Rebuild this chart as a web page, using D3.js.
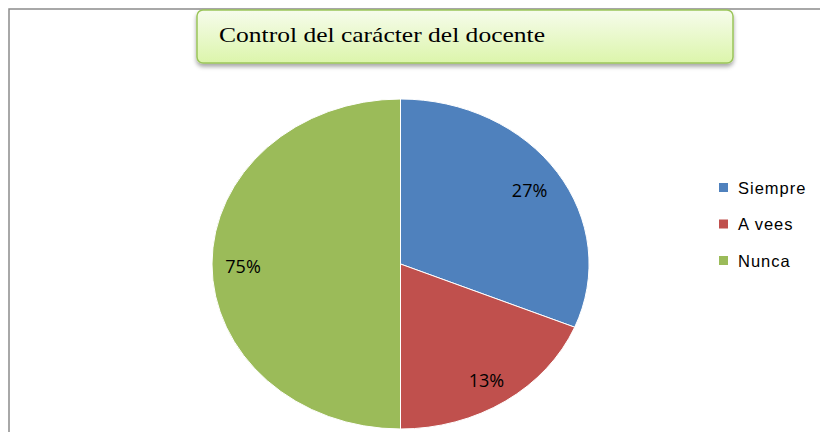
<!DOCTYPE html>
<html>
<head>
<meta charset="utf-8">
<script src="https://cdn.jsdelivr.net/npm/d3@7"></script>
<style>
body { margin: 0; background: #fff; }
</style>
</head>
<body>
<div id="chart-area"></div>
<script>

// Data
var categories = ["Siempre", "A vees", "Nunca"];
var sliceValues = [5, 3, 8];
var sliceLabels = ["27%", "13%", "75%"];
var colors = ["#4f81bd", "#c0504d", "#9bbb59"];
var title = "Control del carácter del docente";

var width = 820, height = 432;

var svg = d3.select("#chart-area").append("svg")
	.attr("width", width)
	.attr("height", height);

var defs = svg.append("defs");

var grad = defs.append("linearGradient")
	.attr("id", "titleGrad")
	.attr("x1", 0).attr("y1", 0).attr("x2", 0).attr("y2", 1);
grad.append("stop").attr("offset", "0%").attr("stop-color", "#f6fcec");
grad.append("stop").attr("offset", "100%").attr("stop-color", "#dcf5ab");

var shadow = defs.append("filter").attr("id", "shadow")
	.attr("x", "-5%").attr("y", "-20%").attr("width", "110%").attr("height", "160%");
shadow.append("feDropShadow")
	.attr("dx", 0).attr("dy", 3).attr("stdDeviation", 2)
	.attr("flood-color", "#000").attr("flood-opacity", 0.35);

// Chart border
svg.append("path")
	.attr("d", "M9," + height + " V9 H" + width)
	.attr("fill", "none")
	.attr("stroke", "#8c8c8c")
	.attr("stroke-width", 1.5);

// Pie (Excel draws it as an ellipse)
var cx = 400.5, cy = 264, rx = 188.5, ry = 165;

var pie = d3.pie().sort(null).value(function(d){ return d; });
var arcs = pie(sliceValues);

var arc = d3.arc().innerRadius(0).outerRadius(1);
var labelArc = d3.arc().innerRadius(0.83).outerRadius(0.83);

var pieGroup = svg.append("g")
	.attr("transform", "translate(" + cx + "," + cy + ")");

pieGroup.selectAll("path.slice")
	.data(arcs)
	.enter().append("path")
	.attr("class", "slice")
	.attr("transform", "scale(" + rx + "," + ry + ")")
	.attr("d", arc)
	.attr("fill", function(d, i){ return colors[i]; })
	.attr("stroke", "#fff")
	.attr("stroke-width", 1)
	.attr("vector-effect", "non-scaling-stroke");

pieGroup.selectAll("text.lbl")
	.data(arcs)
	.enter().append("text")
	.attr("class", "lbl")
	.attr("x", function(d){ return labelArc.centroid(d)[0] * rx - 1; })
	.attr("y", function(d){ return labelArc.centroid(d)[1] * ry + 3; })
	.attr("dy", "0.35em")
	.attr("text-anchor", "middle")
	.attr("font-family", "'Open Sans', sans-serif")
	.attr("font-size", 18)
	.attr("fill", "#000")
	.text(function(d, i){ return sliceLabels[i]; });

// Title box
svg.append("rect")
	.attr("x", 197).attr("y", 10)
	.attr("width", 536).attr("height", 53)
	.attr("rx", 6)
	.attr("fill", "url(#titleGrad)")
	.attr("stroke", "#9bc55a")
	.attr("stroke-width", 1.5)
	.attr("filter", "url(#shadow)");

svg.append("text")
	.attr("x", 219).attr("y", 42)
	.attr("font-family", "'Liberation Serif', 'Times New Roman', serif")
	.attr("font-size", 22)
	.attr("textLength", 326)
	.attr("lengthAdjust", "spacingAndGlyphs")
	.attr("fill", "#000")
	.text(title);

// Legend
var legend = svg.selectAll("g.legend")
	.data(categories)
	.enter().append("g")
	.attr("class", "legend")
	.attr("transform", function(d, i){ return "translate(719," + (188 + i * 36.5) + ")"; });

legend.append("rect")
	.attr("x", 0).attr("y", -5)
	.attr("width", 9).attr("height", 9)
	.attr("fill", function(d, i){ return colors[i]; });

legend.append("text")
	.attr("x", 19).attr("y", 0)
	.attr("dy", "0.35em")
	.attr("font-family", "'Liberation Sans', Arial, sans-serif")
	.attr("font-size", 16.5)
	.attr("letter-spacing", 1)
	.attr("fill", "#000")
	.text(function(d){ return d; });

</script>
</body>
</html>
